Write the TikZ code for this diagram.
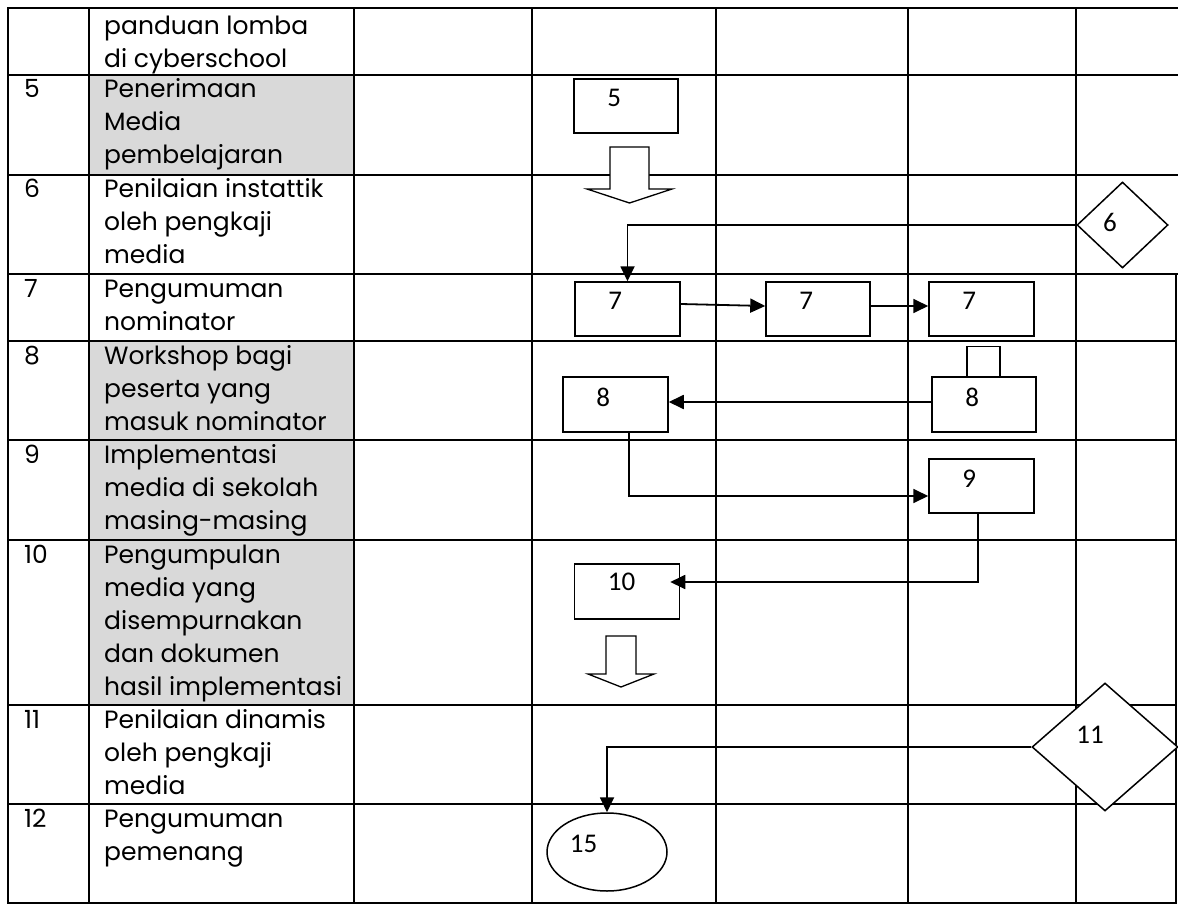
\documentclass[tikz,border=0pt]{standalone}
\usepackage{fontspec}
\setmainfont{Poppins}
\newfontfamily\boxfont{Carlito}
\usetikzlibrary{shapes.geometric,arrows.meta,calc}
\definecolor{cellgray}{HTML}{D9D9D9}
\newcommand\cellrows[1]{\begin{tabular}[t]{@{}l@{}}#1\end{tabular}}
\begin{document}
\begin{tikzpicture}[x=1pt,y=-1pt,
  gridline/.style={line width=2pt},
  flowbox/.style={draw, fill=white, line width=1.5pt, rectangle, inner sep=0pt},
  conn/.style={line width=1.8pt, -{Triangle[length=15pt,width=14pt]}},
  boxlabel/.style={font=\boxfont\fontsize{27}{27}\selectfont, inner sep=0pt},
  cell/.style={anchor=base west, inner sep=0pt, font=\fontsize{25}{33}\selectfont},
  blockarrow/.style={draw, fill=white, line width=1.3pt, line join=miter}]
\useasboundingbox (0,0) rectangle (1178,904);
% shaded cells
\fill[cellgray] (89,75) rectangle (354,175);
\fill[cellgray] (89,341) rectangle (354,705);
% table grid
\foreach \x in {8,89,354,532,716,908,1076} \draw[gridline] (\x,8) -- (\x,903);
\draw[gridline] (1176,274) -- (1176,903);
\foreach \y in {8,75,175,274} \draw[gridline] (7,\y) -- (1178,\y);
\foreach \y in {341,440,540,705,804,903} \draw[gridline] (7,\y) -- (1177,\y);
% column 1 numbers
\node[cell] (n5) at (24,98) {5};
\node[cell] (n6) at (24,198) {6};
\node[cell] (n7) at (24,297) {7};
\node[cell] (n8) at (24,364) {8};
\node[cell] (n9) at (24,463) {9};
\node[cell] (n10) at (24,563) {10};
\node[cell] (n11) at (24,728) {11};
\node[cell] (n12) at (24,827) {12};
% column 2 activities
\node[cell] (a4) at (104,35) {\cellrows{panduan lomba\\di cyberschool}};
\node[cell] (a5) at (104,98) {\cellrows{Penerimaan\\Media\\pembelajaran}};
\node[cell] (a6) at (104,198) {\cellrows{Penilaian instattik\\oleh pengkaji\\media}};
\node[cell] (a7) at (104,297) {\cellrows{Pengumuman\\nominator}};
\node[cell] (a8) at (104,364) {\cellrows{Workshop bagi\\peserta yang\\masuk nominator}};
\node[cell] (a9) at (104,463) {\cellrows{Implementasi\\media di sekolah\\masing-masing}};
\node[cell] (a10) at (104,563) {\cellrows{Pengumpulan\\media yang\\disempurnakan\\dan dokumen\\hasil implementasi}};
\node[cell] (a11) at (104,728) {\cellrows{Penilaian dinamis\\oleh pengkaji\\media}};
\node[cell] (a12) at (104,827) {\cellrows{Pengumuman\\pemenang}};
% flow shapes
\node[flowbox, minimum width=104pt, minimum height=54pt] (b5) at (626,106) {};
\node[flowbox, minimum width=105pt, minimum height=54pt] (b7a) at (627.5,309) {};
\node[flowbox, minimum width=104pt, minimum height=54pt] (b7b) at (818,309) {};
\node[flowbox, minimum width=105pt, minimum height=54pt] (b7c) at (981.5,309) {};
\node[flowbox, minimum width=105pt, minimum height=55pt] (b8a) at (615.5,404.5) {};
\node[flowbox, minimum width=104pt, minimum height=55pt] (b8b) at (984,404.5) {};
\node[flowbox, minimum width=33pt, minimum height=30pt, anchor=south] (b8top) at (983.5,377) {};
\node[flowbox, minimum width=105pt, minimum height=54pt] (b9) at (981.5,486) {};
\node[flowbox, minimum width=105pt, minimum height=55pt] (b10) at (627,591.5) {};
\node[draw, fill=white, line width=1.5pt, diamond, inner sep=0pt, minimum width=91pt, minimum height=86pt] (d6) at (1122.5,225) {};
\node[draw, fill=white, line width=1.5pt, diamond, inner sep=0pt, minimum width=146pt, minimum height=128pt] (d11) at (1105,747) {};
\node[draw, fill=white, line width=1.5pt, ellipse, inner sep=0pt, minimum width=120pt, minimum height=78pt] (e15) at (607,852) {};
% block arrows
\draw[blockarrow] (610,147) -- (649,147) -- (649,189) -- (672,189) -- (629.5,203) -- (587,189) -- (610,189) -- cycle;
\draw[blockarrow] (606,636) -- (636,636) -- (636,674) -- (654,674) -- (621,687) -- (588,674) -- (606,674) -- cycle;
% labels
\node[boxlabel, anchor=west] (t5) at ($(b5.north west)+(34,20)$) {5};
\node[boxlabel, anchor=west] (t7a) at ($(b7a.north west)+(34,20)$) {7};
\node[boxlabel, anchor=west] (t7b) at ($(b7b.north west)+(34,20)$) {7};
\node[boxlabel, anchor=west] (t7c) at ($(b7c.north west)+(34,20)$) {7};
\node[boxlabel, anchor=west] (t8a) at ($(b8a.north west)+(34,21)$) {8};
\node[boxlabel, anchor=west] (t8b) at ($(b8b.north west)+(34,21)$) {8};
\node[boxlabel, anchor=west] (t9) at ($(b9.north west)+(34,20)$) {9};
\node[boxlabel, anchor=west] (t10) at ($(b10.north west)+(34,19)$) {10};
\node[boxlabel] (t6) at (1110,222) {6};
\node[boxlabel] (t11) at (1090,735) {11};
\node[boxlabel] (t15) at (583.5,844) {15};
% connectors
\draw[conn] (d6.west) -| (b7a.north);
\draw[conn] ([yshift=5pt]b7a.east) -- ([yshift=3pt]b7b.west);
\draw[conn] ([yshift=3pt]b7b.east) -- ([yshift=3pt]b7c.west);
\draw[conn] ([yshift=2.5pt]b8b.west) -- ([yshift=2.5pt]b8a.east);
\draw[conn] ([xshift=13.5pt]b8a.south) |- ([yshift=-10pt]b9.west);
\draw[conn] ([xshift=-3.5pt]b9.south) |- ([xshift=-10pt,yshift=9.5pt]b10.east);
\draw[conn] (d11.west) -| (e15.north);
\end{tikzpicture}
\end{document}
